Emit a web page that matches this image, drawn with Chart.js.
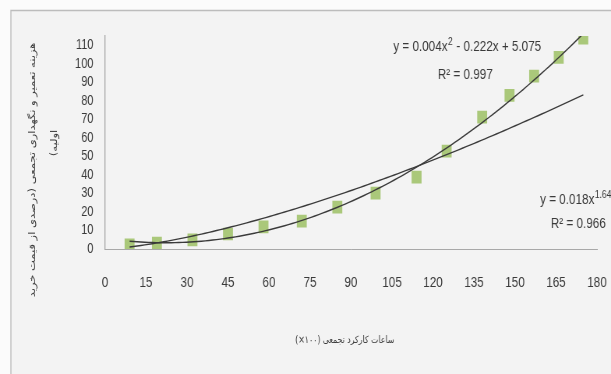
<!DOCTYPE html>
<html lang="fa">
<head>
<meta charset="utf-8">
<title>هزینه تعمیر و نگهداری تجمعی</title>
<script src="https://cdn.jsdelivr.net/npm/chart.js@4.4.1/dist/chart.umd.min.js"></script>
<style>
  html, body { margin: 0; padding: 0; background: #ffffff; overflow: hidden; }
  /* the chart is laid out on a wider canvas and narrowed horizontally */
  #wrap {
    position: absolute; left: 0; top: 0;
    width: 784px; height: 374px;
    transform: scaleX(0.77934); transform-origin: 0 0;
  }
  #chart { display: block; width: 784px; height: 374px; }
</style>
</head>
<body>
<div id="wrap"><canvas id="chart" width="784" height="374"></canvas></div>
<script>
// cumulative operating hours (x100) and cumulative repair & maintenance cost (% of purchase price)
const hours = [9, 19, 32, 45, 58, 72, 85, 99, 114, 125, 138, 148, 157, 166, 175];
const cost  = [2.2, 3.2, 4.9, 8.1, 11.9, 15.1, 22.6, 30.2, 38.8, 52.8, 71.2, 83.0, 93.3, 103.5, 113.8];

const xTickValues = [0, 15, 30, 45, 60, 75, 90, 105, 120, 135, 150, 165, 180];
const yTickValues = [0, 10, 20, 30, 40, 50, 60, 70, 80, 90, 100, 110];

const yTitleLines = ['هزینه تعمیر و نگهداری تجمعی (درصدی از قیمت خرید', 'اولیه)'];
const xTitle = 'ساعات کارکرد تجمعی (۱۰۰×)';

const quadEquation = ['y = 0.004x', '2', ' - 0.222x + 5.075'];
const quadR2 = 'R² = 0.997';
const powerEquation = ['y = 0.018x', '1.645', ''];
const powerR2 = 'R² = 0.966';

// least-squares trend lines, the way a spreadsheet builds them
function quadFit(xs, ys) {
  let s = [0, 0, 0, 0, 0], t = [0, 0, 0];
  xs.forEach((x, i) => {
    for (let k = 0; k < 5; k++) s[k] += Math.pow(x, k);
    for (let k = 0; k < 3; k++) t[k] += ys[i] * Math.pow(x, k);
  });
  const m = [[s[0], s[1], s[2], t[0]], [s[1], s[2], s[3], t[1]], [s[2], s[3], s[4], t[2]]];
  for (let c = 0; c < 3; c++) {
    for (let r = c + 1; r < 3; r++) {
      const f = m[r][c] / m[c][c];
      for (let k = c; k < 4; k++) m[r][k] -= f * m[c][k];
    }
  }
  const b = [0, 0, 0];
  for (let r = 2; r >= 0; r--) {
    let v = m[r][3];
    for (let k = r + 1; k < 3; k++) v -= m[r][k] * b[k];
    b[r] = v / m[r][r];
  }
  return x => b[0] + b[1] * x + b[2] * x * x;
}
function powerFit(xs, ys) {
  const lx = xs.map(Math.log), ly = ys.map(Math.log), n = xs.length;
  const mx = lx.reduce((a, v) => a + v, 0) / n, my = ly.reduce((a, v) => a + v, 0) / n;
  let num = 0, den = 0;
  lx.forEach((v, i) => { num += (v - mx) * (ly[i] - my); den += (v - mx) * (v - mx); });
  const p = num / den, a = Math.exp(my - p * mx);
  return x => a * Math.pow(x, p);
}
function curve(fn) {
  const lo = Math.min(...hours), hi = Math.max(...hours), pts = [];
  for (let i = 0; i <= 120; i++) { const x = lo + (hi - lo) * i / 120; pts.push({ x, y: fn(x) }); }
  return pts;
}

const quadLine = curve(quadFit(hours, cost));
const powerLine = curve(powerFit(hours, cost));
const points = hours.map((h, i) => ({ x: h, y: cost[i] }));

const TEXT = '#3a3a3a';
const NUM_FONT = "'Liberation Sans', Arial, sans-serif";
const FA_FONT = "'DejaVu Sans', sans-serif";

function drawSupText(ctx, parts, x, y, align) {
  ctx.font = '15px ' + NUM_FONT;
  const w0 = ctx.measureText(parts[0]).width, w2 = ctx.measureText(parts[2]).width;
  ctx.font = '11px ' + NUM_FONT;
  const w1 = ctx.measureText(parts[1]).width;
  const total = w0 + w1 + w2;
  let left = align === 'center' ? x - total / 2 : x;
  ctx.textAlign = 'left';
  ctx.textBaseline = 'middle';
  ctx.font = '15px ' + NUM_FONT;
  ctx.fillText(parts[0], left, y);
  ctx.font = '11px ' + NUM_FONT;
  ctx.fillText(parts[1], left + w0 + 0.5, y - 5);
  ctx.font = '15px ' + NUM_FONT;
  ctx.fillText(parts[2], left + w0 + w1 + 1, y);
}

const frame = {
  id: 'frame',
  beforeDraw(chart) {
    const { ctx, width, height } = chart;
    ctx.save();
    ctx.fillStyle = '#fbfbfb';
    ctx.fillRect(0, 0, width, height);
    ctx.fillStyle = '#f3f3f3';
    ctx.fillRect(14, 10, width - 14, height - 10);
    ctx.strokeStyle = '#bcbcbc';
    ctx.lineWidth = 1.4;
    ctx.beginPath();
    ctx.moveTo(14, height); ctx.lineTo(14, 10.5); ctx.lineTo(width, 10.5);
    ctx.stroke();
    ctx.restore();
  },
  afterDraw(chart) {
    const { ctx, chartArea: a } = chart;
    ctx.save();
    ctx.fillStyle = TEXT;
    // axis titles (right-to-left text)
    ctx.direction = 'rtl';
    ctx.textAlign = 'center';
    ctx.textBaseline = 'middle';
    ctx.font = '11.5px ' + FA_FONT;
    ctx.save();
    ctx.translate(42, 170);
    ctx.rotate(-Math.PI / 2);
    ctx.fillText(yTitleLines[0], 0, 0);
    ctx.restore();
    ctx.save();
    ctx.translate(70, 143);
    ctx.rotate(-Math.PI / 2);
    ctx.fillText(yTitleLines[1], 0, 0);
    ctx.restore();
    ctx.font = '10px ' + FA_FONT;
    ctx.fillText(xTitle, (a.left + a.right) / 2 - 8, 340);
    ctx.direction = 'ltr';
    // trend line equations
    drawSupText(ctx, quadEquation, 599, 47, 'center');
    ctx.font = '15px ' + NUM_FONT;
    ctx.textAlign = 'center';
    ctx.fillText(quadR2, 597, 75);
    drawSupText(ctx, powerEquation, 693, 200, 'left');
    ctx.font = '15px ' + NUM_FONT;
    ctx.textAlign = 'center';
    ctx.textBaseline = 'middle';
    ctx.fillText(powerR2, 742, 224);
    ctx.restore();
  }
};

const hiddenTicks = 'rgba(0,0,0,0)';

new Chart(document.getElementById('chart'), {
  type: 'scatter',
  data: {
    datasets: [
      {
        label: 'quadratic trend',
        data: quadLine,
        showLine: true,
        borderColor: '#3a3a3a',
        borderWidth: 1.4,
        pointRadius: 0,
        tension: 0,
        order: 1
      },
      {
        label: 'power trend',
        data: powerLine,
        showLine: true,
        borderColor: '#3a3a3a',
        borderWidth: 1.4,
        pointRadius: 0,
        tension: 0,
        order: 1
      },
      {
        label: 'cost',
        data: points,
        pointStyle: 'rect',
        pointRadius: 9,
        backgroundColor: '#aac87a',
        borderColor: '#aac87a',
        borderWidth: 0,
        order: 2
      }
    ]
  },
  options: {
    responsive: false,
    devicePixelRatio: 1,
    animation: false,
    layout: { autoPadding: false, padding: { left: 0, right: 18, top: 36, bottom: 0 } },
    plugins: { legend: { display: false }, tooltip: { enabled: false } },
    scales: {
      x: {
        type: 'linear',
        min: 0,
        max: 180,
        afterBuildTicks: s => { s.ticks = xTickValues.map(v => ({ value: v })); },
        afterFit: s => { s.height = 125; },
        grid: { display: true, drawOnChartArea: false, drawTicks: true, tickLength: 25, tickColor: hiddenTicks, color: hiddenTicks },
        border: { display: true, color: '#a8a8a8', width: 1 },
        ticks: { autoSkip: false, maxRotation: 0, padding: 0, color: TEXT, font: { family: NUM_FONT, size: 15 } }
      },
      y: {
        type: 'linear',
        min: 0,
        max: 115,
        afterBuildTicks: s => { s.ticks = yTickValues.map(v => ({ value: v })); },
        afterFit: s => { s.width = 134.7; },
        grid: { display: true, drawOnChartArea: false, drawTicks: true, tickLength: 15, tickColor: hiddenTicks, color: hiddenTicks },
        border: { display: true, color: '#a8a8a8', width: 1.3 },
        ticks: { autoSkip: false, padding: 0, color: TEXT, font: { family: NUM_FONT, size: 14 } }
      }
    }
  },
  plugins: [frame]
});
</script>
</body>
</html>
